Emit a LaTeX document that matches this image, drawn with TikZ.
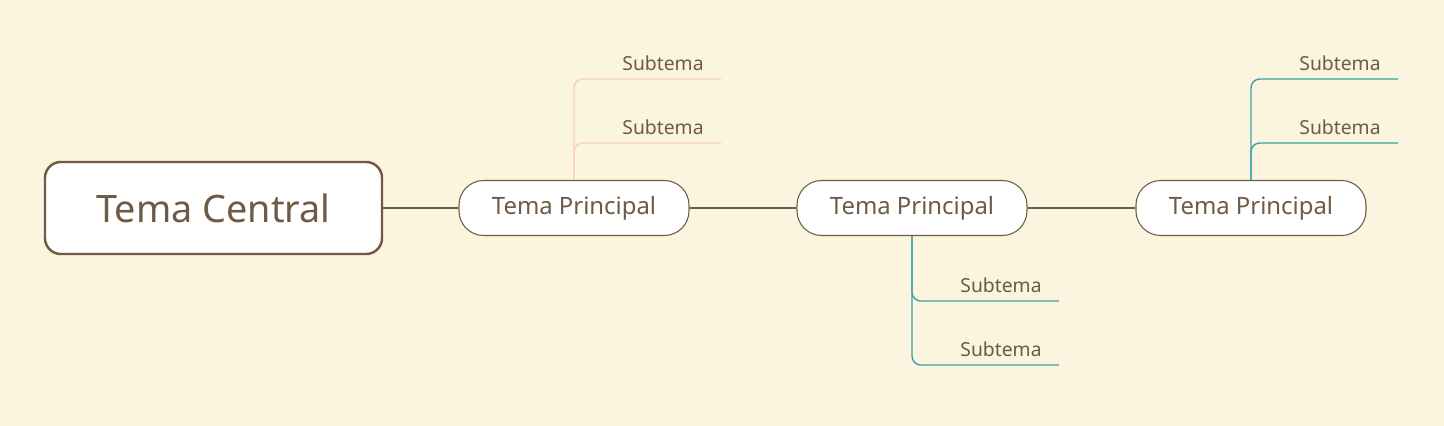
\documentclass[tikz,border=0pt]{standalone}
\usepackage{fontspec}
\setmainfont{Noto Sans}
\definecolor{bgcol}{HTML}{FBF4DE}
\definecolor{brown}{HTML}{6E5A45}
\definecolor{pinkl}{HTML}{F8CFC8}
\definecolor{tealc}{HTML}{3AA0A8}
\begin{document}
\begin{tikzpicture}
    [
    x=0.02cm,y=-0.02cm,
    central/.style = {draw=brown,line width=1.4pt,fill=white,rounded corners=9pt,minimum width=337*0.02cm,minimum height=92*0.02cm,text=brown,font=\fontsize{21.5}{24}\selectfont},
    main/.style = {draw=brown,line width=0.6pt,fill=white,rounded corners=14pt,minimum width=230*0.02cm,minimum height=55*0.02cm,text=brown,font=\fontsize{13.6}{16}\selectfont},
    sub/.style = {text=brown,font=\fontsize{11}{13}\selectfont},
    link/.style = {draw=brown,line width=1.4pt},
    branch/.style = {line width=0.8pt,rounded corners=5pt}
    ]
\fill[bgcol] (0,0) rectangle (1444,426);

\node[central] (center) at (213.5,208) {Tema Central};
\node[main] (ta) at (574,208) {Tema Principal};
\node[main] (tb) at (912,208) {Tema Principal};
\node[main] (tc) at (1251,208) {Tema Principal};

\draw[link] (center) -- (ta);
\draw[link] (ta) -- (tb);
\draw[link] (tb) -- (tc);

% subtopics of the first topic
\coordinate (a1) at (721,79);
\coordinate (a2) at (721,143);
\draw[branch,pinkl] (ta.north) |- (a1);
\draw[branch,pinkl] (ta.north) |- (a2);
\node[sub] (sa1) at (663,63) {Subtema};
\node[sub] (sa2) at (663,127) {Subtema};

% subtopics of the second topic
\coordinate (b1) at (1059,301);
\coordinate (b2) at (1059,365);
\draw[branch,tealc] (tb.south) |- (b1);
\draw[branch,tealc] (tb.south) |- (b2);
\node[sub] (sb1) at (1001,285) {Subtema};
\node[sub] (sb2) at (1001,349) {Subtema};

% subtopics of the third topic
\coordinate (c1) at (1398,79);
\coordinate (c2) at (1398,143);
\draw[branch,tealc] (tc.north) |- (c1);
\draw[branch,tealc] (tc.north) |- (c2);
\node[sub] (sc1) at (1340,63) {Subtema};
\node[sub] (sc2) at (1340,127) {Subtema};
\end{tikzpicture}
\end{document}
